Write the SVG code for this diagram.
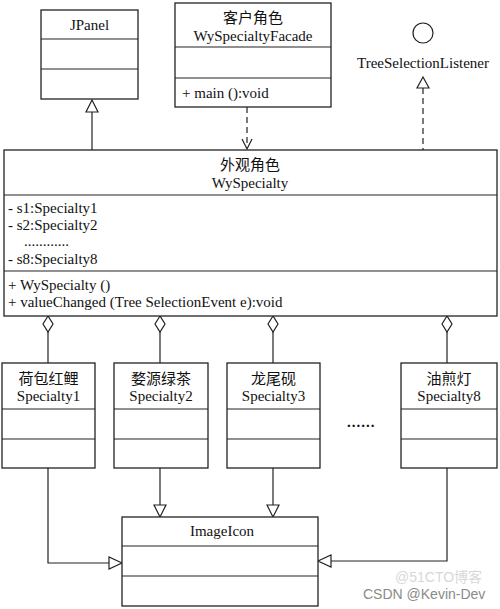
<svg xmlns="http://www.w3.org/2000/svg" width="500" height="609" viewBox="0 0 500 609">
<defs>
<style>
.box{fill:#fff;stroke:#222;stroke-width:1.3}
.ln{fill:none;stroke:#222;stroke-width:1.2}
.dash{fill:none;stroke:#222;stroke-width:1.2;stroke-dasharray:6,4}
.tri{fill:#fff;stroke:#222;stroke-width:1.2}
.t{font-family:"Liberation Serif","Noto Sans CJK SC",serif;font-size:15px;fill:#111}
.c{text-anchor:middle}
.wm{font-family:"Liberation Sans","Noto Sans CJK SC",sans-serif;font-size:14px}
</style>
</defs>
<rect width="500" height="609" fill="#fff"/>
<g id="connectors">
<line class="ln" x1="92" y1="112" x2="92" y2="150"/>
<polygon class="tri" points="92,100 86,112 98,112"/>
<line class="dash" x1="247" y1="107" x2="247" y2="148"/>
<polyline class="ln" points="242,139 247,149 252,139"/>
<line class="dash" x1="423" y1="88" x2="423" y2="150"/>
<polygon class="tri" points="423,77 417,88 429,88"/>
<line class="ln" x1="48" y1="332" x2="48" y2="363"/>
<polygon class="tri" points="48,316 43,324 48,332 53,324"/>
<line class="ln" x1="160" y1="332" x2="160" y2="363"/>
<polygon class="tri" points="160,316 155,324 160,332 165,324"/>
<line class="ln" x1="273" y1="332" x2="273" y2="363"/>
<polygon class="tri" points="273,316 268,324 273,332 278,324"/>
<line class="ln" x1="447" y1="332" x2="447" y2="363"/>
<polygon class="tri" points="447,316 442,324 447,332 452,324"/>
<polyline class="ln" points="48,468 48,563 109,563"/>
<polygon class="tri" points="122,563 109,557 109,569"/>
<line class="ln" x1="160" y1="468" x2="160" y2="505"/>
<polygon class="tri" points="160,517 154,505 166,505"/>
<line class="ln" x1="273" y1="468" x2="273" y2="505"/>
<polygon class="tri" points="273,517 267,505 279,505"/>
<polyline class="ln" points="447,468 447,561 331,561"/>
<polygon class="tri" points="318,561 331,555 331,567"/>
</g>
<g id="JPanel">
<rect class="box" x="41" y="10" width="97" height="89"/>
<line class="ln" x1="41" y1="39" x2="138" y2="39"/>
<line class="ln" x1="41" y1="69" x2="138" y2="69"/>
<text class="t c" x="89.5" y="30">JPanel</text>
</g>
<g id="WySpecialtyFacade">
<rect class="box" x="175" y="3" width="156" height="104"/>
<line class="ln" x1="175" y1="47" x2="331" y2="47"/>
<line class="ln" x1="175" y1="78" x2="331" y2="78"/>
<text class="t c" x="253" y="23">客户角色</text>
<text class="t c" x="253" y="41">WySpecialtyFacade</text>
<text class="t" x="182" y="98">+ main ():void</text>
</g>
<g id="TreeSelectionListener">
<circle cx="423" cy="33" r="10" fill="#fff" stroke="#222" stroke-width="1.2"/>
<text class="t c" x="423" y="68">TreeSelectionListener</text>
</g>
<g id="WySpecialty">
<rect class="box" x="4" y="150" width="493" height="166"/>
<line class="ln" x1="4" y1="195" x2="497" y2="195"/>
<line class="ln" x1="4" y1="271" x2="497" y2="271"/>
<text class="t c" x="250" y="170">外观角色</text>
<text class="t c" x="250" y="188">WySpecialty</text>
<text class="t" x="8" y="213">- s1:Specialty1</text>
<text class="t" x="8" y="230">- s2:Specialty2</text>
<text class="t" x="24" y="246">............</text>
<text class="t" x="8" y="264">- s8:Specialty8</text>
<text class="t" x="8" y="290">+ WySpecialty ()</text>
<text class="t" x="8" y="307">+ valueChanged (Tree SelectionEvent e):void</text>
</g>
<g id="Specialty1">
<rect class="box" x="2" y="363" width="93" height="105"/>
<line class="ln" x1="2" y1="409" x2="95" y2="409"/>
<line class="ln" x1="2" y1="439" x2="95" y2="439"/>
<text class="t c" x="48.5" y="384">荷包红鲤</text>
<text class="t c" x="48.5" y="401">Specialty1</text>
</g>
<g id="Specialty2">
<rect class="box" x="114" y="363" width="94" height="105"/>
<line class="ln" x1="114" y1="409" x2="208" y2="409"/>
<line class="ln" x1="114" y1="439" x2="208" y2="439"/>
<text class="t c" x="161" y="384">婺源绿茶</text>
<text class="t c" x="161" y="401">Specialty2</text>
</g>
<g id="Specialty3">
<rect class="box" x="227" y="363" width="93" height="105"/>
<line class="ln" x1="227" y1="409" x2="320" y2="409"/>
<line class="ln" x1="227" y1="439" x2="320" y2="439"/>
<text class="t c" x="273.5" y="384">龙尾砚</text>
<text class="t c" x="273.5" y="401">Specialty3</text>
</g>
<g id="ellipsis">
<text class="t" x="347" y="427" font-weight="bold" letter-spacing="1">......</text>
</g>
<g id="Specialty8">
<rect class="box" x="401" y="363" width="96" height="105"/>
<line class="ln" x1="401" y1="409" x2="497" y2="409"/>
<line class="ln" x1="401" y1="439" x2="497" y2="439"/>
<text class="t c" x="449" y="384">油煎灯</text>
<text class="t c" x="449" y="401">Specialty8</text>
</g>
<g id="ImageIcon">
<rect class="box" x="122" y="517" width="196" height="89"/>
<line class="ln" x1="122" y1="546" x2="318" y2="546"/>
<line class="ln" x1="122" y1="576" x2="318" y2="576"/>
<text class="t c" x="222" y="536">ImageIcon</text>
</g>
<g id="watermark">
<text class="wm" x="395" y="582" fill="#d8d8d8">@51CTO博客</text>
<text class="wm" x="363" y="599" fill="#8a8a8a">CSDN @Kevin-Dev</text>
</g>
</svg>
